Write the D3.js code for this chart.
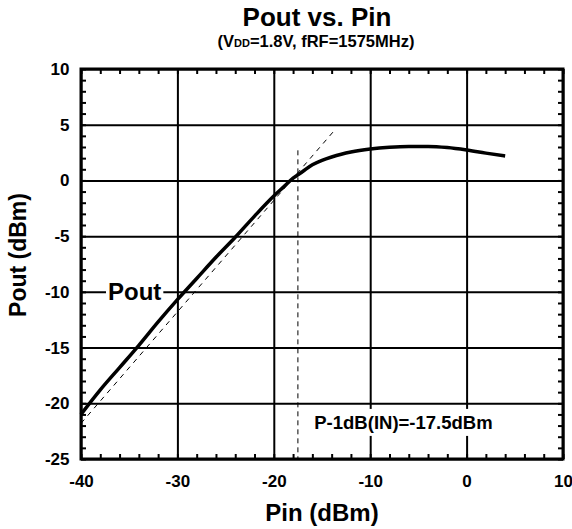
<!DOCTYPE html>
<html>
<head>
<meta charset="utf-8">
<script src="https://cdn.jsdelivr.net/npm/d3@7"></script>
<style>
  body { margin: 0; background: #fff; }
  svg text { font-family: Arial, "Liberation Sans", sans-serif; font-weight: bold; fill: #000; }
</style>
</head>
<body>
<div id="chart"></div>
<script>
// measured curve, Pin (dBm) -> Pout (dBm)
var pinValues = [-40, -38, -36, -34, -32, -30, -28, -26, -24, -22, -20, -19, -18, -17, -16, -15, -14, -13, -12, -10, -8, -6, -4, -2, 0, 2, 4];
var poutValues = [-21.0, -18.8, -16.8, -14.8, -12.7, -10.7, -8.8, -6.9, -5.1, -3.2, -1.4, -0.6, 0.2, 0.8, 1.4, 1.8, 2.1, 2.35, 2.55, 2.82, 2.98, 3.05, 3.05, 2.95, 2.73, 2.45, 2.2];

// 1 dB/dB reference line and the P-1dB marker
var tangentPin = [-40, -13.7];
var tangentPout = [-21.8, 4.5];
var p1dbPin = -17.5;
var p1dbTop = 2.7;

var xTicks = [-40, -30, -20, -10, 0, 10];
var yTicks = [10, 5, 0, -5, -10, -15, -20, -25];
var xMinor = d3.range(-40, 10.001, 2);
var yMinor = d3.range(-25, 10.001, 1);

var margin = { top: 69, right: 9, bottom: 70, left: 81 };
var totalWidth = 572;
var totalHeight = 529;
var width = totalWidth - margin.left - margin.right;
var height = totalHeight - margin.top - margin.bottom;

var x = d3.scaleLinear().domain([-40, 10]).range([0, width]);
var y = d3.scaleLinear().domain([-25, 10]).range([height, 0]);

var svg = d3.select('#chart')
  .append('svg')
  .attr('width', totalWidth)
  .attr('height', totalHeight);

var g = svg.append('g')
  .attr('transform', 'translate(' + margin.left + ',' + margin.top + ')');

// titles
svg.append('text')
  .attr('x', 317).attr('y', 25.5)
  .attr('text-anchor', 'middle')
  .style('font-size', '26px')
  .text('Pout vs. Pin');

var sub = svg.append('text')
  .attr('x', 316).attr('y', 47)
  .attr('text-anchor', 'middle')
  .style('font-size', '16.5px');
sub.append('tspan').text('(V');
sub.append('tspan').style('font-size', '11px').text('DD');
sub.append('tspan').text('=1.8V, fRF=1575MHz)');

// major grid
g.append('g')
  .attr('class', 'grid')
  .attr('transform', 'translate(0,' + height + ')')
  .call(d3.axisBottom(x).tickValues(xTicks).tickSize(-height).tickFormat(''));
g.append('g')
  .attr('class', 'grid')
  .call(d3.axisLeft(y).tickValues(yTicks).tickSize(-width).tickFormat(''));
g.selectAll('.grid .domain').remove();
g.selectAll('.grid line').attr('stroke', '#000').attr('stroke-width', 2);

// minor ticks on all four sides, pointing inward
var minorAxes = [
  { axis: d3.axisBottom(x).tickValues(xMinor), t: 'translate(0,' + height + ')' },
  { axis: d3.axisTop(x).tickValues(xMinor), t: 'translate(0,0)' },
  { axis: d3.axisLeft(y).tickValues(yMinor), t: 'translate(0,0)' },
  { axis: d3.axisRight(y).tickValues(yMinor), t: 'translate(' + width + ',0)' }
];
minorAxes.forEach(function(m) {
  var a = g.append('g')
    .attr('class', 'minor')
    .attr('transform', m.t)
    .call(m.axis.tickSize(-5).tickFormat(''));
  a.select('.domain').remove();
  a.selectAll('line').attr('stroke', '#000').attr('stroke-width', 2);
});

// tick labels
var xAxis = g.append('g')
  .attr('transform', 'translate(0,' + height + ')')
  .call(d3.axisBottom(x).tickValues(xTicks).tickSize(0).tickPadding(16).tickFormat(function(d) { return String(d); }));
var yAxis = g.append('g')
  .call(d3.axisLeft(y).tickValues(yTicks).tickSize(0).tickPadding(11.5).tickFormat(function(d) { return String(d); }));
[xAxis, yAxis].forEach(function(a) {
  a.select('.domain').remove();
  a.selectAll('text').attr('fill', '#000').style('font-size', '17px')
    .style('font-family', 'Arial, "Liberation Sans", sans-serif').style('font-weight', 'bold');
});

// axis titles
svg.append('text')
  .attr('x', 322).attr('y', 521)
  .attr('text-anchor', 'middle')
  .style('font-size', '24px')
  .text('Pin (dBm)');
svg.append('text')
  .attr('transform', 'translate(26,255) rotate(-90)')
  .attr('text-anchor', 'middle')
  .style('font-size', '23px')
  .text('Pout (dBm)');

// labels with white boxes over the grid
function boxedLabel(px, py, size, str, pad) {
  var grp = g.append('g');
  var bg = grp.append('rect').attr('fill', '#fff');
  var t = grp.append('text')
    .attr('x', px).attr('y', py)
    .style('font-size', size + 'px')
    .text(str);
  var bb = t.node().getBBox();
  bg.attr('x', bb.x - pad[0]).attr('y', bb.y - pad[1])
    .attr('width', bb.width + 2 * pad[0]).attr('height', bb.height + 2 * pad[1]);
}
boxedLabel(x(-37.2), y(-10) + 8, 24, 'Pout', [2, 0]);
boxedLabel(x(-15.8), y(-22.3), 18.5, 'P-1dB(IN)=-17.5dBm', [4, 3]);

// frame
g.append('rect')
  .attr('width', width).attr('height', height)
  .attr('fill', 'none').attr('stroke', '#000').attr('stroke-width', 3);

// dashed reference lines
g.append('line')
  .attr('x1', x(tangentPin[0])).attr('y1', y(tangentPout[0]))
  .attr('x2', x(tangentPin[1])).attr('y2', y(tangentPout[1]))
  .attr('stroke', '#000').attr('stroke-width', 1).attr('stroke-dasharray', '5,5');
g.append('line')
  .attr('x1', x(p1dbPin)).attr('y1', y(p1dbTop))
  .attr('x2', x(p1dbPin)).attr('y2', y(-25))
  .attr('stroke', '#000').attr('stroke-width', 1).attr('stroke-dasharray', '5,4');

// measured curve
var pts = pinValues.map(function(d, i) { return [d, poutValues[i]]; });
var line = d3.line()
  .x(function(d) { return x(d[0]); })
  .y(function(d) { return y(d[1]); })
  .curve(d3.curveMonotoneX);
g.append('path')
  .datum(pts)
  .attr('d', line)
  .attr('fill', 'none')
  .attr('stroke', '#000')
  .attr('stroke-width', 3.5)
  .attr('stroke-linejoin', 'round');
</script>
</body>
</html>
